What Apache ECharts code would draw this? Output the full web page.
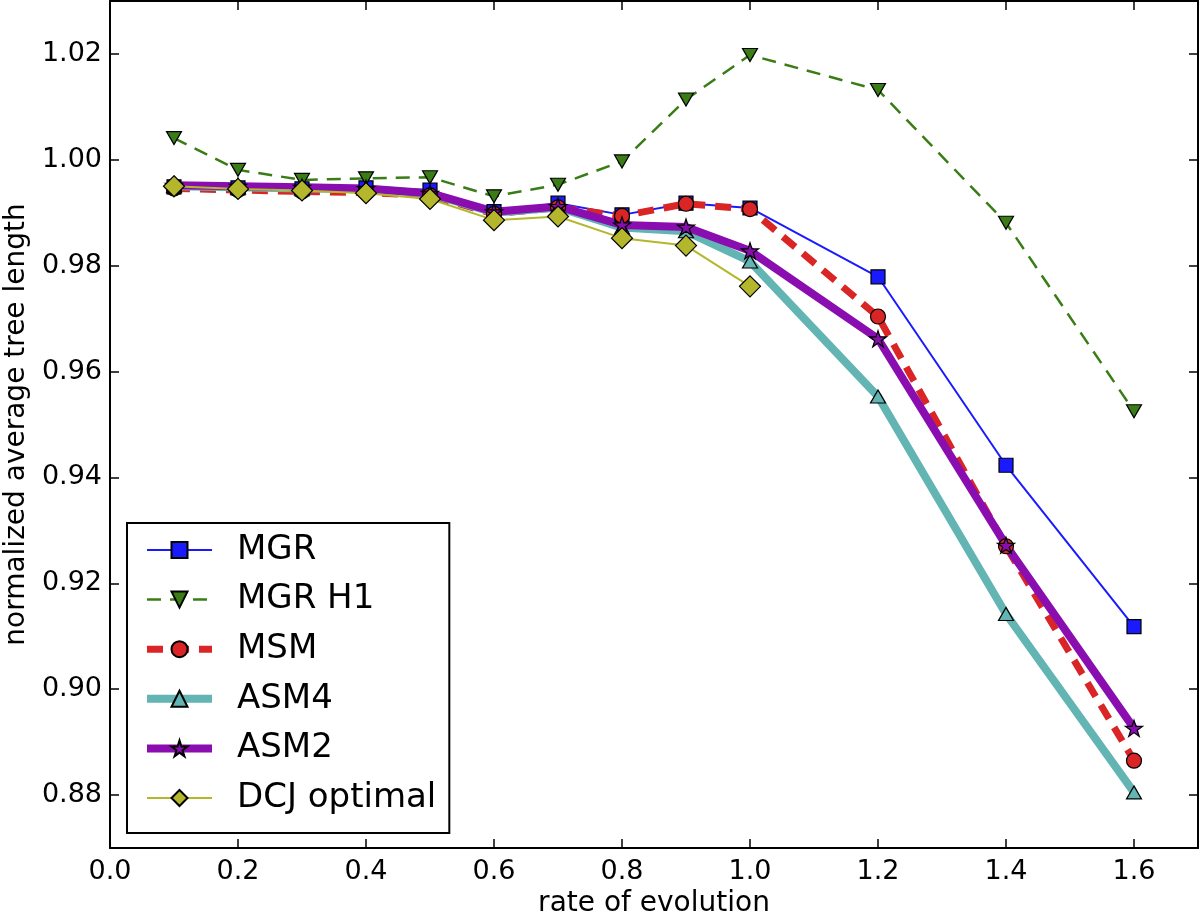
<!DOCTYPE html>
<html>
<head>
<meta charset="utf-8">
<script src="https://cdn.jsdelivr.net/npm/echarts@6/dist/echarts.min.js"></script>
<style>
html,body{margin:0;padding:0;background:#fff;}
#chart{width:1200px;height:915px;}
</style>
</head>
<body>
<div id="chart"></div>
<script>
// ---- data ----
const seriesNames = ['MGR', 'MGR H1', 'MSM', 'ASM4', 'ASM2', 'DCJ optimal'];
const xFull = [0.1, 0.2, 0.3, 0.4, 0.5, 0.6, 0.7, 0.8, 0.9, 1.0, 1.2, 1.4, 1.6];
const xDCJ = [0.1, 0.2, 0.3, 0.4, 0.5, 0.6, 0.7, 0.8, 0.9, 1.0];
const mgr   = [0.9949, 0.9947, 0.9945, 0.9947, 0.9943, 0.9902, 0.9918, 0.9896, 0.9918, 0.9909, 0.9779, 0.9423, 0.9118];
const mgrH1 = [1.0041, 0.9981, 0.9962, 0.9965, 0.9967, 0.9931, 0.9953, 0.9997, 1.0114, 1.0198, 1.0132, 0.9881, 0.9525];
const msm   = [0.9946, 0.9943, 0.9940, 0.9938, 0.9933, 0.9898, 0.9910, 0.9894, 0.9917, 0.9907, 0.9704, 0.9270, 0.8865];
const asm4  = [0.9950, 0.9948, 0.9946, 0.9945, 0.9936, 0.9900, 0.9910, 0.9872, 0.9865, 0.9808, 0.9553, 0.9142, 0.8805];
const asm2  = [0.9952, 0.9950, 0.9948, 0.9946, 0.9937, 0.9902, 0.9912, 0.9877, 0.9873, 0.9828, 0.9662, 0.9272, 0.8926];
const dcj   = [0.9950, 0.9945, 0.9942, 0.9937, 0.9926, 0.9886, 0.9893, 0.9852, 0.9838, 0.9761];
const xTitle = 'rate of evolution';
const yTitle = 'normalized average tree length';

const pair = (xs, ys) => xs.map((x, i) => [x, ys[i]]);
const FONT = 'DejaVu Sans';
const STAR = 'path://M0,-1 L0.2245,-0.309 L0.951,-0.309 L0.363,0.118 L0.588,0.809 L0,0.382 L-0.588,0.809 L-0.363,0.118 L-0.951,-0.309 L-0.2245,-0.309 Z';

const styles = {
  'MGR':         { color: '#1a1aff', width: 2,   dash: 'solid',  symbol: 'rect',     size: 14,       rotate: 0 },
  'MGR H1':      { color: '#3a7d16', width: 2.5, dash: [14, 9],  symbol: 'triangle', size: [15, 13], rotate: 180 },
  'MSM':         { color: '#d92525', width: 7,   dash: [16, 10], symbol: 'circle',   size: 15,       rotate: 0 },
  'ASM4':        { color: '#62b5b3', width: 8,   dash: 'solid',  symbol: 'triangle', size: [15, 13], rotate: 0 },
  'ASM2':        { color: '#8a0db0', width: 8,   dash: 'solid',  symbol: STAR,       size: 17,       rotate: 0 },
  'DCJ optimal': { color: '#b4b72c', width: 2,   dash: 'solid',  symbol: 'diamond',  size: 21,       rotate: 0 }
};

function mk(name, data) {
  const s = styles[name];
  return {
    name: name, type: 'line', data: data,
    xAxisIndex: 0, yAxisIndex: 0,
    showAllSymbol: true, symbol: s.symbol, symbolSize: s.size, symbolRotate: s.rotate,
    symbolKeepAspect: true,
    lineStyle: { color: s.color, width: s.width, type: s.dash },
    itemStyle: { color: s.color, borderColor: '#000', borderWidth: 1.2 },
    emphasis: { disabled: true },
    animation: false
  };
}

const chart = echarts.init(document.getElementById('chart'), null, { renderer: 'canvas' });
const axisLineStyle = { show: true, onZero: false, lineStyle: { color: '#000', width: 2 } };
const tickStyle = { show: true, inside: true, length: 9, lineStyle: { color: '#000', width: 1.5 } };

chart.setOption({
  backgroundColor: '#fff',
  animation: false,
  textStyle: { fontFamily: FONT },
  grid: { left: 110, right: 2, top: 1, bottom: 67, containLabel: false, outerBoundsMode: 'none' },
  legend: {
    data: seriesNames.map(n => ({
      name: n,
      lineStyle: { width: styles[n].width, type: styles[n].dash, color: styles[n].color }
    })),
    orient: 'vertical',
    left: 127, top: 523,
    padding: [7, 13, 15, 16],
    itemGap: 9.6,
    itemWidth: 65, itemHeight: 20,
    borderColor: '#000', borderWidth: 2,
    backgroundColor: '#fff',
    textStyle: { fontFamily: FONT, fontSize: 34, color: '#000', lineHeight: 40, padding: [0, 0, 0, 20] },
    selectedMode: false
  },
  xAxis: [
    {
      type: 'value', min: 0, max: 1.7, interval: 0.2, position: 'bottom',
      name: xTitle, nameLocation: 'middle', nameGap: 41,
      nameTextStyle: { fontFamily: FONT, fontSize: 28, color: '#000' },
      axisLine: axisLineStyle, axisTick: tickStyle, splitLine: { show: false },
      axisLabel: { fontFamily: FONT, fontSize: 27, color: '#000', margin: 10, showMaxLabel: false,
        formatter: v => v.toFixed(1) }
    },
    {
      type: 'value', min: 0, max: 1.7, interval: 0.2, position: 'top',
      axisLine: axisLineStyle, axisTick: tickStyle, splitLine: { show: false },
      axisLabel: { show: false }
    }
  ],
  yAxis: [
    {
      type: 'value', min: 0.87, max: 1.03, splitNumber: 8, minInterval: 0.02, maxInterval: 0.02,
      position: 'left',
      name: yTitle, nameLocation: 'middle', nameGap: 74, nameRotate: 90,
      nameTextStyle: { fontFamily: FONT, fontSize: 28, color: '#000' },
      axisLine: axisLineStyle, axisTick: tickStyle, splitLine: { show: false },
      axisLabel: { fontFamily: FONT, fontSize: 27, color: '#000', margin: 8,
        showMinLabel: false, showMaxLabel: false, formatter: v => v.toFixed(2) }
    },
    {
      type: 'value', min: 0.87, max: 1.03, splitNumber: 8, minInterval: 0.02, maxInterval: 0.02,
      position: 'right',
      axisLine: axisLineStyle, axisTick: tickStyle, splitLine: { show: false },
      axisLabel: { show: false }
    }
  ],
  series: seriesNames.map((n, i) => mk(n, pair(i === 5 ? xDCJ : xFull, [mgr, mgrH1, msm, asm4, asm2, dcj][i])))
});
</script>
</body>
</html>
